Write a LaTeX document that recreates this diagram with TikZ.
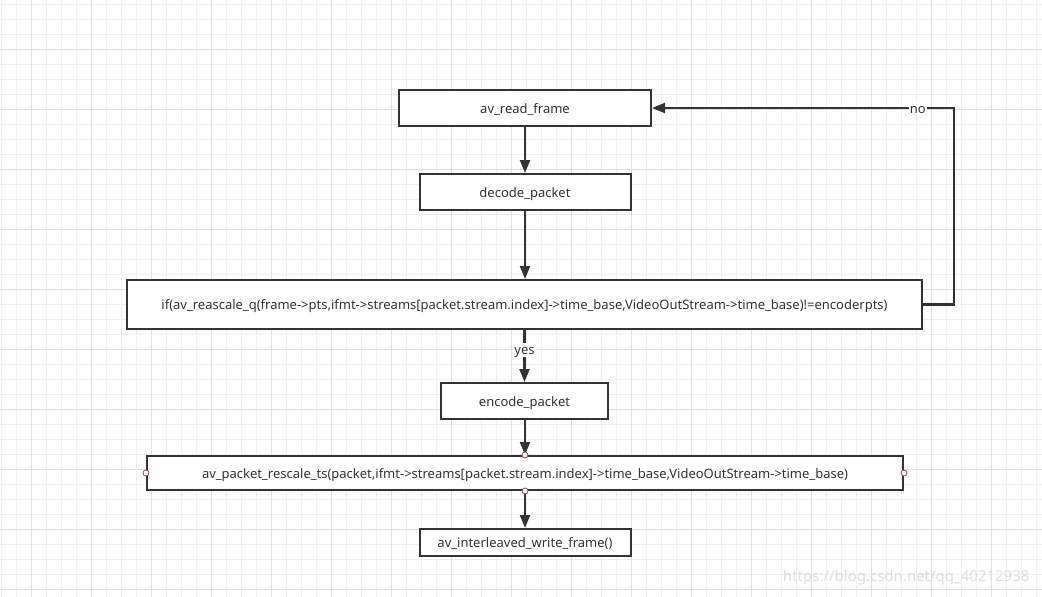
\documentclass[tikz,border=0pt]{standalone}
\usepackage{fontspec}
\setmainfont{Noto Sans}
\usetikzlibrary{arrows.meta}

\definecolor{linegray}{HTML}{333333}
\definecolor{gridminor}{HTML}{F0F0F0}
\definecolor{gridmajor}{HTML}{E0E0E0}
\definecolor{portred}{HTML}{9A4646}

\tikzset{
  block/.style={draw=linegray, line width=2pt, fill=white, text=linegray,
    inner sep=0pt, text height=11pt, text depth=1pt, font=\fontsize{13}{15}\selectfont},
  flow/.style={draw=linegray, line width=2.2pt, -{Triangle[length=13pt,width=10pt]}},
  port/.style={circle, draw=portred, fill=white, line width=0.8pt,
    inner sep=0pt, minimum size=6pt},
  tag/.style={fill=white, text=linegray, inner sep=1pt, text height=11pt, text depth=1pt,
    font=\fontsize{13}{15}\selectfont}
}

\begin{document}
\begin{tikzpicture}[x=1pt,y=-1pt]
  \useasboundingbox [fill=white] (0,0) rectangle (1042,597);

  % сетка
  \foreach \i in {1,16,...,1041} \draw [gridminor, line width=1pt] (\i,0) -- (\i,597);
  \foreach \j in {4,19,...,597} \draw [gridminor, line width=1pt] (0,\j) -- (1042,\j);
  \foreach \i in {31,91,...,1041} \draw [gridmajor, line width=1pt] (\i,0) -- (\i,597);
  \foreach \j in {49,109,...,597} \draw [gridmajor, line width=1pt] (0,\j) -- (1042,\j);

  % блоки
  \node [block, minimum width=252pt, minimum height=36pt] (read) at (525,108) {av\_read\_frame};
  \node [block, minimum width=211pt, minimum height=36pt] (decode) at (525,192) {decode\_packet};
  \node [block, minimum width=795pt, minimum height=49pt] (cond) at (524.5,304.5)
    {if(av\_reascale\_q(frame->pts,ifmt->streams[packet.stream.index]->time\_base,VideoOutStream->time\_base)!=encoderpts)};
  \node [block, minimum width=167pt, minimum height=36pt] (encode) at (524.5,401) {encode\_packet};
  \node [block, minimum width=756pt, minimum height=34pt] (rescale) at (525,473)
    {av\_packet\_rescale\_ts(packet,ifmt->streams[packet.stream.index]->time\_base,VideoOutStream->time\_base)};
  \node [block, minimum width=211pt, minimum height=27pt] (write) at (525,542.5) {av\_interleaved\_write\_frame()};

  % стрелки
  \draw [flow] (read.south) -- (read.south |- decode.north);
  \draw [flow] (decode.south) -- (decode.south |- cond.north);
  \draw [flow] (cond.south -| encode.north) -- node [tag, pos=0.38] (yes) {yes} (encode.north);
  \draw [flow] (encode.south -| rescale.north) -- (rescale.north);
  \draw [flow] (rescale.south) -- (rescale.south |- write.north);
  \draw [flow] (cond.east) -- ++(31,0) |- node [tag, pos=0.56] (no) {no} (read.east);

  % точки
  \node [port] (pn) at (rescale.north) {};
  \node [port] (ps) at (rescale.south) {};
  \node [port] (pw) at (rescale.west) {};
  \node [port] (pe) at (rescale.east) {};

  % водяной знак
  \node [anchor=east, text=black!13, font=\fontsize{15}{17}\selectfont] (watermark) at (1033,578) {https://blog.csdn.net/qq\_40212938};
\end{tikzpicture}
\end{document}
